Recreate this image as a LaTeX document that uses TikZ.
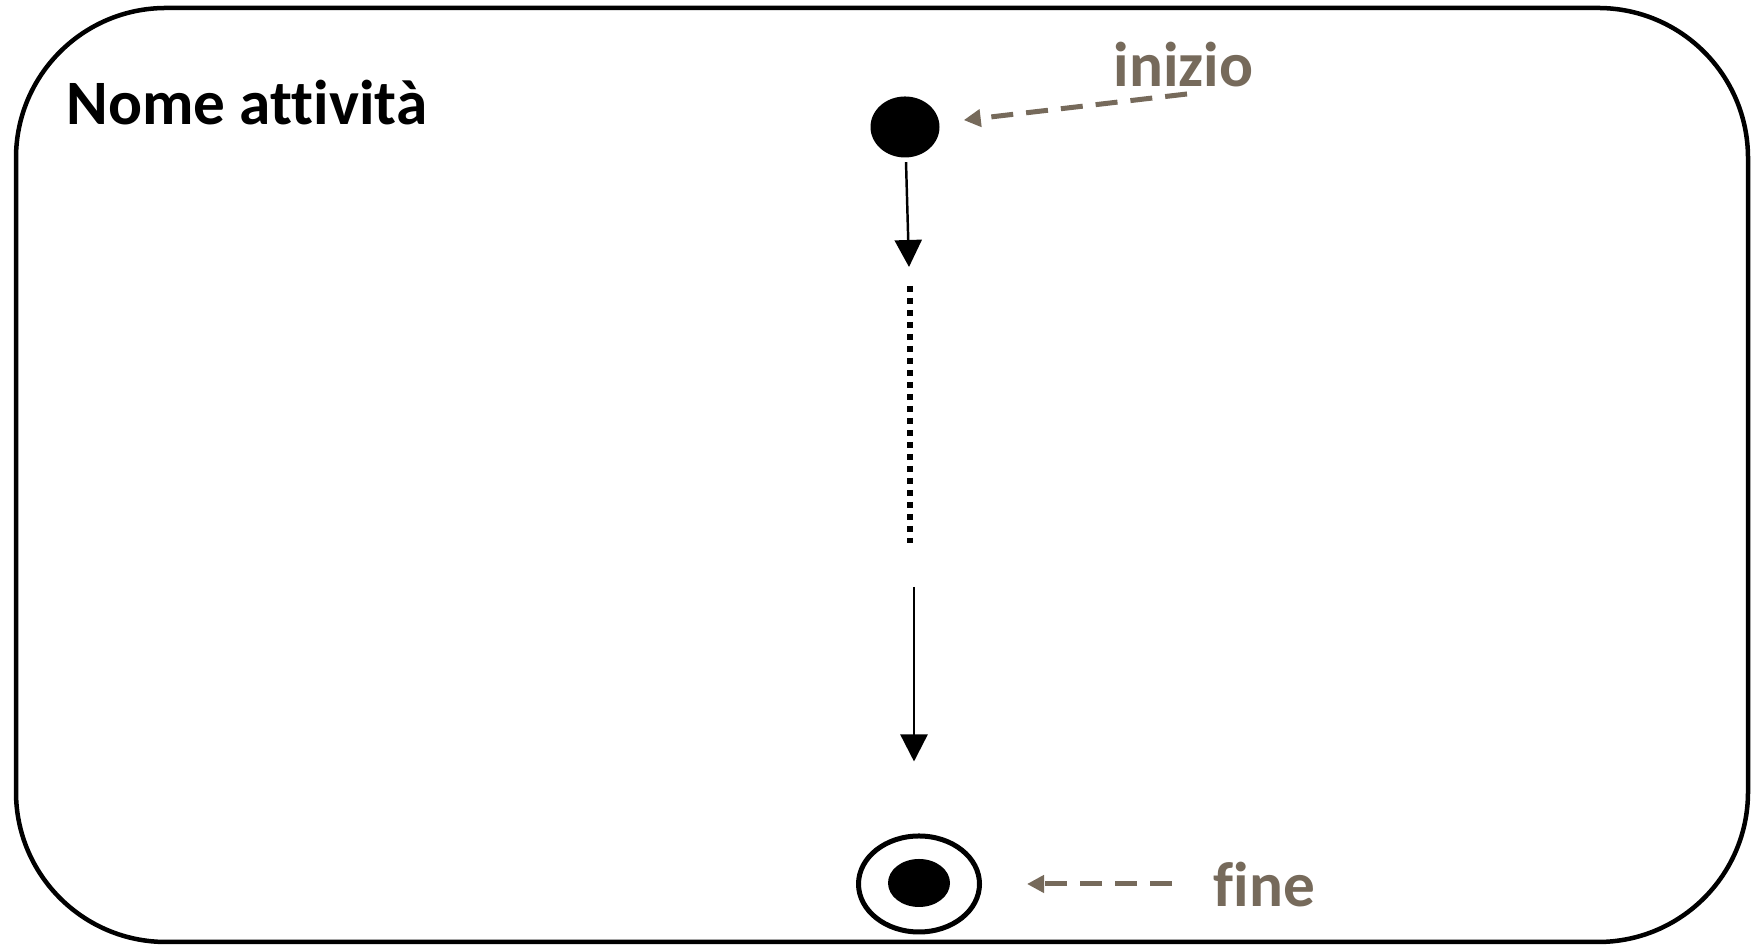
\documentclass[tikz,border=0pt]{standalone}
\usepackage{fontspec}
\setmainfont[Ligatures={NoCommon}]{Carlito}
\usetikzlibrary{arrows.meta,shapes.geometric}

\definecolor{notebrown}{RGB}{118,106,91}

\tikzset{
  flow/.style     = {line width=0.7pt, -{Triangle[length=0.27cm, width=0.27cm]}},
  gapline/.style  = {line width=0.06cm, dash pattern=on 0.06cm off 0.06cm},
  noteline/.style = {notebrown, line width=0.05cm, dash pattern=on 0.22cm off 0.13cm,
                     -{Triangle[length=0.17cm, width=0.17cm]}},
  notetext/.style = {notebrown, font=\fontsize{18}{20}\selectfont\bfseries, inner sep=0pt, anchor=base west},
}

\begin{document}
\begin{tikzpicture}
                \useasboundingbox (0,0) rectangle (17.55,9.45);

                \draw[line width=0.045cm, rounded corners=1.5cm] (0.16,0.03) rectangle (17.48,9.37);

                \node[anchor=base west, inner sep=0pt, font=\fontsize{18}{20}\selectfont\bfseries] (title) at (0.66,8.20) {Nome attività};


                \tikzset{VertexStyle/.style={ellipse, fill=black, inner sep=0pt, minimum width=0.69cm, minimum height=0.61cm}}
                \node[VertexStyle] (start) at (9.05,8.18) {};

                \coordinate (gap-top) at (9.09,6.78);
                \draw[flow, shorten <=0.04cm] (start) -- (gap-top);



                \coordinate (dots-top) at (9.10,6.59);
                \coordinate (dots-bottom) at (9.10,4.02);
                \draw[gapline] (dots-top) -- (dots-bottom);



                \tikzset{VertexStyle/.style={ellipse, draw, line width=0.05cm, inner sep=0pt, minimum width=1.21cm, minimum height=0.96cm}}
                \node[VertexStyle] (stop) at (9.19,0.61) {};

                \tikzset{VertexStyle/.style={ellipse, fill=black, inner sep=0pt, minimum width=0.62cm, minimum height=0.48cm}}
                \node[VertexStyle] (stop-dot) at (9.19,0.62) {};

                \coordinate (gap-bottom) at (9.14,3.58);
                \draw[flow, shorten >=0.72cm] (gap-bottom) -- (gap-bottom |- stop.north);



                \node[notetext] (inizio) at (11.13,8.58) {inizio};
                \coordinate (inizio-tail) at (11.87,8.51);
                \draw[noteline, shorten >=0.24cm] (inizio-tail) -- (start);

                \node[notetext] (fine) at (12.13,0.38) {fine};
                \draw[noteline, shorten <=0.41cm, shorten >=0.45cm] (fine.west |- stop) -- (stop);

\end{tikzpicture}
\end{document}
